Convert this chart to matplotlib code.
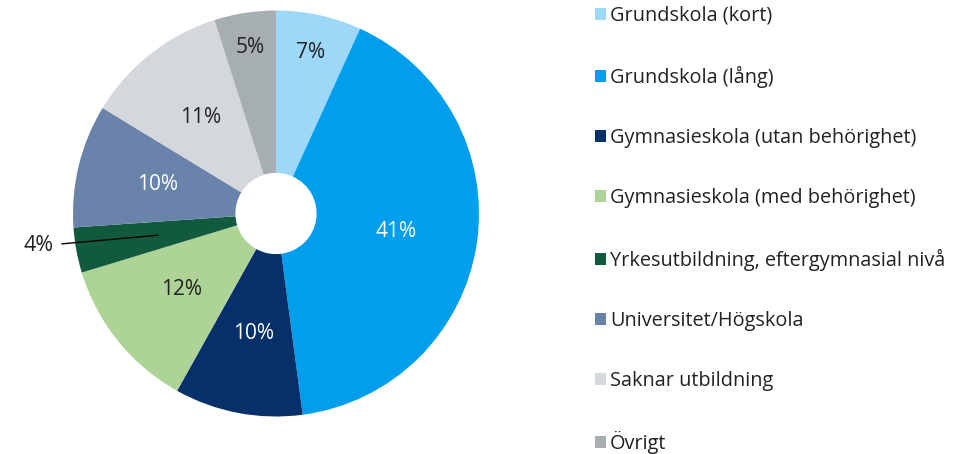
import numpy as np
import matplotlib
matplotlib.use("Agg")
import matplotlib.pyplot as plt

categories = ["Grundskola (kort)", "Grundskola (lång)", "Gymnasieskola (utan behörighet)",
              "Gymnasieskola (med behörighet)", "Yrkesutbildning, eftergymnasial nivå",
              "Universitet/Högskola", "Saknar utbildning", "Övrigt"]
values = [6.8, 41.1, 10.2, 12.2, 3.6, 9.8, 11.4, 4.9]
colors = ["#9DD8F8", "#009EEC", "#06306A", "#AED396", "#125A3E", "#6A83AA", "#D4D7DB", "#A7AEB2"]
label_colors = ["#222222", "white", "white", "#222222", "#222222", "white", "#222222", "#222222"]

plt.rcParams['font.family'] = ['Open Sans', 'DejaVu Sans']

fig = plt.figure(figsize=(9.57, 4.54), dpi=100)
W, H = 957, 454
cx, cy, r = 276, 213.5, 203
ax = fig.add_axes([(cx - r) / W, (H - cy - r) / H, 2 * r / W, 2 * r / H])

wedges, texts, autotexts = ax.pie(values, colors=colors, startangle=90, counterclock=False,
                                  autopct='%.0f%%', pctdistance=0.6,
                                  wedgeprops=dict(width=0.8, linewidth=0),
                                  textprops=dict(fontsize=15))
ax.set_xlim(-1, 1)
ax.set_ylim(-1, 1)
ax.set_aspect('equal')

dist = [0.81, 0.6, 0.6, 0.6, 0.59, 0.6, 0.6, 0.83]
for w, t, c, d in zip(wedges, autotexts, label_colors, dist):
    mid = np.deg2rad((w.theta1 + w.theta2) / 2)
    t.set_position((d * np.cos(mid), d * np.sin(mid)))
    t.set_color(c)

# small slice label placed outside with a leader line
t4 = autotexts[4]
x4, y4 = t4.get_position()
t4.set_visible(False)
ax.annotate(t4.get_text(), xy=(x4, y4), xytext=(-1.17, -0.16), ha='center', va='center',
            fontsize=15.5, color='#222222', annotation_clip=False,
            arrowprops=dict(arrowstyle='-', color='black', lw=1.0, shrinkA=4, shrinkB=0))

leg = fig.legend(wedges, categories, loc='upper left', bbox_to_anchor=(591 / W, 1 - 2 / H),
                 frameon=False, fontsize=14.3, handlelength=0.55, handleheight=0.55,
                 handletextpad=0.2, labelspacing=2.02, borderaxespad=0, borderpad=0.2)
for txt in leg.get_texts():
    txt.set_color('#222222')

fig.savefig("out.png", dpi=100)
